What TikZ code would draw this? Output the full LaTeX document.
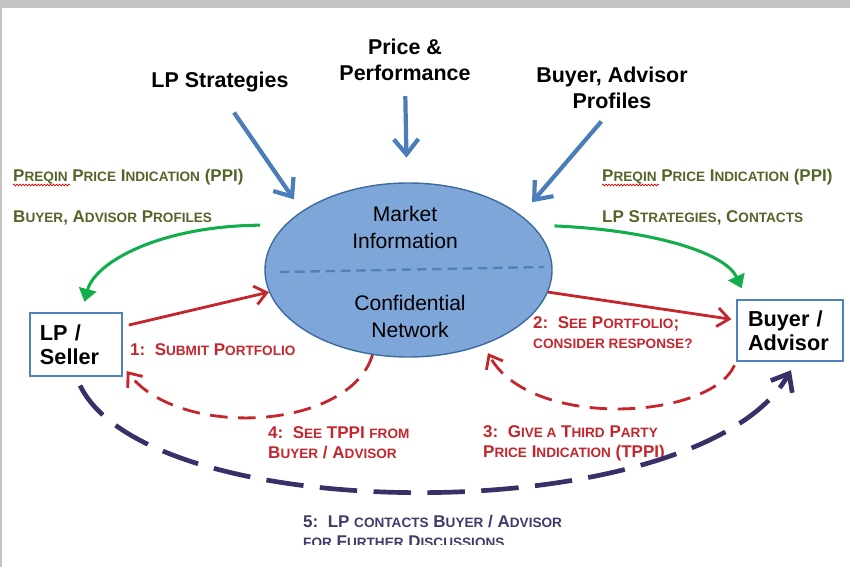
\documentclass[tikz,border=0pt]{standalone}
\usepackage{fontspec}
\setmainfont{Liberation Sans}
\usetikzlibrary{arrows.meta,positioning,calc,shapes.geometric,decorations.pathmorphing}
\definecolor{Frame}{HTML}{C4C4C6}
\definecolor{HubFill}{HTML}{7EA6D9}
\definecolor{HubLine}{HTML}{3D6B9F}
\definecolor{FeedBlue}{HTML}{4A7EBB}
\definecolor{BoxLine}{HTML}{4F81BD}
\definecolor{ShareGreen}{HTML}{12AE4C}
\definecolor{Olive}{HTML}{546529}
\definecolor{StepRed}{HTML}{C4262E}
\definecolor{Plum}{HTML}{3A2F66}
\definecolor{PlumText}{HTML}{3F3C6C}
\newcommand{\lowcaps}[1]{{\fontsize{11.6}{17}\selectfont #1}}
\tikzset{headline/.style={font=\fontsize{18.3}{22}\selectfont\bfseries,align=center,inner sep=0pt,text=black},hub/.style={ellipse,draw=HubLine,fill=HubFill,line width=1.2pt,minimum width=8.61cm,minimum height=5.22cm,inner sep=0pt},hubtext/.style={font=\fontsize{18}{23}\selectfont,align=center,inner sep=0pt},split/.style={draw=BoxLine,line width=2pt,dash pattern=on 8pt off 5pt},party/.style={rectangle,draw=BoxLine,line width=1.8pt,fill=white,align=left,inner ysep=0pt,font=\fontsize{18.5}{20.5}\selectfont\bfseries},feed/.style={draw=FeedBlue,line width=3.6pt,-{Straight Barb[length=13pt,width=21pt]}},share/.style={draw=ShareGreen,line width=2.6pt,-{Triangle[length=11pt,width=15pt]}},ppi/.style={text=Olive,font=\fontsize{14.5}{17}\selectfont\bfseries,anchor=west,inner sep=0pt},move/.style={draw=StepRed,line width=2.4pt,-{Straight Barb[length=10pt,width=16pt]}},movedash/.style={move,dash pattern=on 15pt off 9pt},movetext/.style={text=StepRed,font=\fontsize{14.5}{17}\selectfont\bfseries,align=left,anchor=west,inner sep=0pt},contact/.style={draw=Plum,line width=4pt,dash pattern=on 32pt off 14pt,-{Straight Barb[length=13pt,width=21pt]}},squiggle/.style={draw=red!85!black,line width=0.6pt,decorate,decoration={snake,amplitude=0.7pt,segment length=2.6pt}}}

\begin{document}
\begin{tikzpicture}[x=0.03cm,y=-0.03cm]
\useasboundingbox (0,0) rectangle (850,567);
\fill[Frame] (0,0) rectangle (850,567);\fill[white] (2,8) rectangle (850,567);
\node[hub] (hub) at (408.5,270) {};
\node[hubtext] (market) at (405,227) {Market\\Information};\node[hubtext] (network) at (410,316) {Confidential\\Network};
\draw[split] (280,272) -- (544,267);
\node[headline] (lps) at (220,82) {LP Strategies};\node[headline] (perf) at (405,60) {Price \&\\Performance};\node[headline] (prof) at (612,88) {Buyer, Advisor\\Profiles};
\draw[feed,shorten <=21pt,shorten >=12pt] (lps.south) -- (hub.151);\draw[feed,shorten <=13pt,shorten >=21pt] (perf.south) -- (hub.91);\draw[feed,shorten <=14pt,shorten >=14.5pt] (prof.south) -- (hub.26);
\node[party,text width=2.16cm,inner xsep=0.3cm,minimum height=1.89cm] (lp) at (76,344.5) {LP /\\Seller};
\node[party,text width=2.52cm,inner xsep=0.33cm,minimum height=1.83cm] (buyer) at (790,330.5) {Buyer /\\Advisor};
\node[ppi] (ppiL) at (13,177) {P\lowcaps{REQIN} P\lowcaps{RICE} I\lowcaps{NDICATION} (PPI)};\node[ppi] (profL) at (13,218) {B\lowcaps{UYER}, A\lowcaps{DVISOR} P\lowcaps{ROFILES}};
\node[ppi] (ppiR) at (602,177) {P\lowcaps{REQIN} P\lowcaps{RICE} I\lowcaps{NDICATION} (PPI)};\node[ppi] (stratR) at (602,218) {LP S\lowcaps{TRATEGIES}, C\lowcaps{ONTACTS}};
\draw[squiggle] (13,185) -- (70,185);\draw[squiggle] (602,185) -- (659,185);
\draw[share,shorten <=21pt,shorten >=9pt] (hub.160) .. controls (160,226) and (95,262) .. (lp.80);
\draw[share,shorten <=19pt,shorten >=10pt] (hub.20) .. controls (650,230) and (725,252) .. (buyer.144);
\draw[move,shorten <=5pt] (lp.21) -- (hub.189);\node[movetext] (submit) at (130,350) {1:\ \ S\lowcaps{UBMIT} P\lowcaps{ORTFOLIO}};
\draw[move,shorten >=4pt] (hub.-9) -- (buyer.169);\node[movetext] (see) at (533,333) {2:\ \ S\lowcaps{EE} P\lowcaps{ORTFOLIO};\\\lowcaps{CONSIDER RESPONSE?}};
\draw[movedash,shorten <=3pt,shorten >=8pt] (buyer.south west) .. controls (710,420) and (530,430) .. (hub.-45);\node[movetext] (give) at (483,443) {3:\ \ G\lowcaps{IVE A} T\lowcaps{HIRD} P\lowcaps{ARTY}\\P\lowcaps{RICE} I\lowcaps{NDICATION} (TPPI)};
\draw[movedash,shorten >=5pt] (hub.247) .. controls (350,430) and (180,440) .. (lp.-25);\node[movetext] (back) at (268,443) {4:\ \ S\lowcaps{EE} TPPI \lowcaps{FROM}\\B\lowcaps{UYER} / A\lowcaps{DVISOR}};
\draw[contact,shorten <=8pt,shorten >=8pt] (lp.south) .. controls (150,530) and (700,530) .. (buyer.-80);
\begin{scope}\clip (0,0) rectangle (850,544);\node[movetext,text=PlumText] (talk) at (303,531.5) {5:\ \ LP \lowcaps{CONTACTS} B\lowcaps{UYER} / A\lowcaps{DVISOR}\\\lowcaps{FOR} F\lowcaps{URTHER} D\lowcaps{ISCUSSIONS}};\end{scope}
\end{tikzpicture}
\end{document}
